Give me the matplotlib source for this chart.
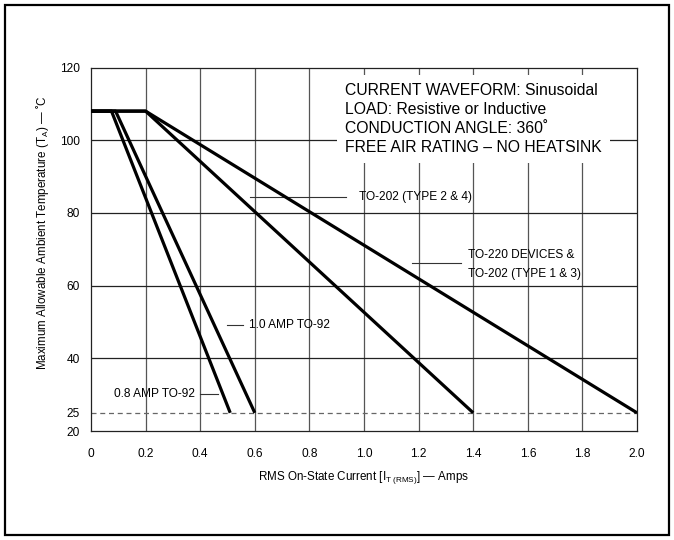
import matplotlib
matplotlib.use("Agg")
import matplotlib.pyplot as plt
from matplotlib.patches import Rectangle

plt.rcParams["font.family"] = ["Liberation Sans", "DejaVu Sans"]
plt.rcParams["mathtext.fontset"] = "custom"
plt.rcParams["mathtext.rm"] = "Liberation Sans"
plt.rcParams["mathtext.it"] = "Liberation Sans:italic"

# derating curves: current (A) vs max ambient temperature (C)
to92_08_current = [0.0, 0.075, 0.51]
to92_08_temp = [108, 108, 25]
to92_10_current = [0.0, 0.09, 0.60]
to92_10_temp = [108, 108, 25]
to202_24_current = [0.0, 0.2, 1.4]
to202_24_temp = [108, 108, 25]
to220_current = [0.0, 0.2, 2.0]
to220_temp = [108, 108, 25]

x_ticks = [0, 0.2, 0.4, 0.6, 0.8, 1.0, 1.2, 1.4, 1.6, 1.8, 2.0]
x_ticklabels = ["0", "0.2", "0.4", "0.6", "0.8", "1.0", "1.2", "1.4", "1.6", "1.8", "2.0"]
y_ticks = [20, 25, 40, 60, 80, 100, 120]
h_grid = [40, 60, 80, 100]
rating_temp = 25

fig = plt.figure(figsize=(6.74, 5.40), dpi=100)
ax = fig.add_axes([91 / 674, 1 - 431 / 540, 546 / 674, 363.5 / 540])
ax.set_xlim(0, 2.0)
ax.set_ylim(20, 120)

# grid
for x in x_ticks[1:-1]:
    ax.axvline(x, color="#555555", lw=0.9, zorder=1)
for y in h_grid:
    ax.axhline(y, color="#222222", lw=0.9, zorder=1)
ax.axhline(rating_temp, color="#666666", lw=0.9, ls=(0, (4, 3)), zorder=1)

# notes box (white background hides grid)
ax.text(0.93, 105.8,
        "CURRENT WAVEFORM: Sinusoidal\nLOAD: Resistive or Inductive\n"
        "CONDUCTION ANGLE: 360˚\nFREE AIR RATING – NO HEATSINK",
        fontsize=11.3, ha="left", va="center", linespacing=1.32, zorder=3,
        bbox=dict(facecolor="white", edgecolor="none", pad=6))

# curves
for xs, ys in [(to92_08_current, to92_08_temp), (to92_10_current, to92_10_temp),
               (to202_24_current, to202_24_temp), (to220_current, to220_temp)]:
    ax.plot(xs, ys, color="black", lw=2.3, solid_capstyle="butt", zorder=4)

# labels with leader lines
lab = dict(fontsize=8.6, va="center", zorder=5)
ax.plot([0.582, 0.934], [84.3, 84.3], color="#333333", lw=0.8, zorder=2)
ax.text(0.982, 84.5, "TO-202 (TYPE 2 & 4)", ha="left", **lab)
ax.plot([1.176, 1.355], [66.2, 66.2], color="#333333", lw=0.8, zorder=2)
ax.text(1.381, 68.4, "TO-220 DEVICES &", ha="left", **lab)
ax.text(1.381, 63.1, "TO-202 (TYPE 1 & 3)", ha="left", **lab)
ax.plot([0.498, 0.557], [49.2, 49.2], color="#333333", lw=0.8, zorder=2)
ax.text(0.579, 49.2, "1.0 AMP TO-92", ha="left", **lab)
ax.plot([0.399, 0.465], [30.2, 30.2], color="#333333", lw=0.8, zorder=2)
ax.text(0.381, 30.2, "0.8 AMP TO-92", ha="right", **lab)

ax.set_xticks(x_ticks)
ax.set_xticklabels(x_ticklabels)
ax.set_yticks(y_ticks)
ax.tick_params(length=0, labelsize=8.6, colors="black")
ax.tick_params(axis="x", pad=12)
ax.tick_params(axis="y", pad=8)
for s in ax.spines.values():
    s.set_linewidth(0.9)
    s.set_color("#222222")

ax.set_xlabel(r"RMS On-State Current [I$_{\mathrm{T\ (RMS)}}$] — Amps", fontsize=8.4)
ax.xaxis.set_label_coords(0.5, -0.105)
ax.text(-0.088, 0.545, r"Maximum Allowable Ambient Temperature (T$_{\mathrm{A}}$) — ˚C",
        rotation=90, fontsize=8.4, ha="center", va="center", transform=ax.transAxes)

# outer frame
fig.patches.append(Rectangle((5 / 674, 5 / 540), 664 / 674, 530 / 540, transform=fig.transFigure,
                             fill=False, edgecolor="black", lw=1.6))

fig.savefig("out.png", dpi=100)
